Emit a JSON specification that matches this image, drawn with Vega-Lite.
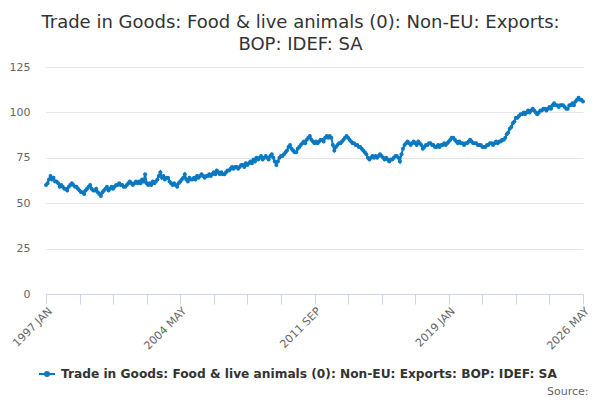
{
  "$schema": "https://vega.github.io/schema/vega-lite/v6.json",
  "width": 537,
  "height": 227,
  "autosize": "none",
  "padding": {"left": 46, "top": 67, "right": 17, "bottom": 106},
  "background": "white",
  "title": {
    "text": ["Trade in Goods: Food & live animals (0): Non-EU: Exports:", "BOP: IDEF: SA"],
    "font": "DejaVu Sans",
    "fontSize": 18,
    "fontWeight": "normal",
    "color": "#333333",
    "anchor": "middle",
    "frame": "group",
    "dx": -14,
    "dy": 3,
    "offset": 10,
    "lineHeight": 22
  },
  "data": {
    "values": [
      {"d": "1997-01", "v": 60}, {"d": "1997-02", "v": 61}, {"d": "1997-03", "v": 63}, {"d": "1997-04", "v": 65}, {"d": "1997-05", "v": 63}, {"d": "1997-06", "v": 64}, {"d": "1997-07", "v": 62}, {"d": "1997-08", "v": 62}, {"d": "1997-09", "v": 61}, {"d": "1997-10", "v": 59}, {"d": "1997-11", "v": 60}, {"d": "1997-12", "v": 59},
      {"d": "1998-01", "v": 58}, {"d": "1998-02", "v": 58}, {"d": "1998-03", "v": 57}, {"d": "1998-04", "v": 59}, {"d": "1998-05", "v": 60}, {"d": "1998-06", "v": 61}, {"d": "1998-07", "v": 60}, {"d": "1998-08", "v": 59}, {"d": "1998-09", "v": 59}, {"d": "1998-10", "v": 58}, {"d": "1998-11", "v": 57}, {"d": "1998-12", "v": 56},
      {"d": "1999-01", "v": 56}, {"d": "1999-02", "v": 55}, {"d": "1999-03", "v": 57}, {"d": "1999-04", "v": 58}, {"d": "1999-05", "v": 59}, {"d": "1999-06", "v": 60}, {"d": "1999-07", "v": 58}, {"d": "1999-08", "v": 57}, {"d": "1999-09", "v": 57}, {"d": "1999-10", "v": 58}, {"d": "1999-11", "v": 56}, {"d": "1999-12", "v": 55},
      {"d": "2000-01", "v": 54}, {"d": "2000-02", "v": 56}, {"d": "2000-03", "v": 57}, {"d": "2000-04", "v": 58}, {"d": "2000-05", "v": 59}, {"d": "2000-06", "v": 57}, {"d": "2000-07", "v": 58}, {"d": "2000-08", "v": 59}, {"d": "2000-09", "v": 58}, {"d": "2000-10", "v": 59}, {"d": "2000-11", "v": 60}, {"d": "2000-12", "v": 60},
      {"d": "2001-01", "v": 61}, {"d": "2001-02", "v": 60}, {"d": "2001-03", "v": 60}, {"d": "2001-04", "v": 59}, {"d": "2001-05", "v": 59}, {"d": "2001-06", "v": 60}, {"d": "2001-07", "v": 61}, {"d": "2001-08", "v": 62}, {"d": "2001-09", "v": 61}, {"d": "2001-10", "v": 60}, {"d": "2001-11", "v": 61}, {"d": "2001-12", "v": 62},
      {"d": "2002-01", "v": 61}, {"d": "2002-02", "v": 62}, {"d": "2002-03", "v": 61}, {"d": "2002-04", "v": 63}, {"d": "2002-05", "v": 62}, {"d": "2002-06", "v": 66}, {"d": "2002-07", "v": 61}, {"d": "2002-08", "v": 60}, {"d": "2002-09", "v": 61}, {"d": "2002-10", "v": 60}, {"d": "2002-11", "v": 62}, {"d": "2002-12", "v": 61},
      {"d": "2003-01", "v": 62}, {"d": "2003-02", "v": 63}, {"d": "2003-03", "v": 65}, {"d": "2003-04", "v": 67}, {"d": "2003-05", "v": 64}, {"d": "2003-06", "v": 65}, {"d": "2003-07", "v": 63}, {"d": "2003-08", "v": 64}, {"d": "2003-09", "v": 64}, {"d": "2003-10", "v": 62}, {"d": "2003-11", "v": 61}, {"d": "2003-12", "v": 60},
      {"d": "2004-01", "v": 61}, {"d": "2004-02", "v": 60}, {"d": "2004-03", "v": 59}, {"d": "2004-04", "v": 61}, {"d": "2004-05", "v": 62}, {"d": "2004-06", "v": 63}, {"d": "2004-07", "v": 64}, {"d": "2004-08", "v": 66}, {"d": "2004-09", "v": 63}, {"d": "2004-10", "v": 62}, {"d": "2004-11", "v": 64}, {"d": "2004-12", "v": 63},
      {"d": "2005-01", "v": 63}, {"d": "2005-02", "v": 64}, {"d": "2005-03", "v": 63}, {"d": "2005-04", "v": 65}, {"d": "2005-05", "v": 64}, {"d": "2005-06", "v": 65}, {"d": "2005-07", "v": 66}, {"d": "2005-08", "v": 65}, {"d": "2005-09", "v": 64}, {"d": "2005-10", "v": 65}, {"d": "2005-11", "v": 65}, {"d": "2005-12", "v": 66},
      {"d": "2006-01", "v": 65}, {"d": "2006-02", "v": 66}, {"d": "2006-03", "v": 67}, {"d": "2006-04", "v": 66}, {"d": "2006-05", "v": 68}, {"d": "2006-06", "v": 67}, {"d": "2006-07", "v": 66}, {"d": "2006-08", "v": 67}, {"d": "2006-09", "v": 66}, {"d": "2006-10", "v": 66}, {"d": "2006-11", "v": 67}, {"d": "2006-12", "v": 68},
      {"d": "2007-01", "v": 68}, {"d": "2007-02", "v": 69}, {"d": "2007-03", "v": 70}, {"d": "2007-04", "v": 69}, {"d": "2007-05", "v": 70}, {"d": "2007-06", "v": 70}, {"d": "2007-07", "v": 69}, {"d": "2007-08", "v": 70}, {"d": "2007-09", "v": 71}, {"d": "2007-10", "v": 71}, {"d": "2007-11", "v": 70}, {"d": "2007-12", "v": 72},
      {"d": "2008-01", "v": 71}, {"d": "2008-02", "v": 72}, {"d": "2008-03", "v": 73}, {"d": "2008-04", "v": 72}, {"d": "2008-05", "v": 74}, {"d": "2008-06", "v": 73}, {"d": "2008-07", "v": 75}, {"d": "2008-08", "v": 74}, {"d": "2008-09", "v": 75}, {"d": "2008-10", "v": 76}, {"d": "2008-11", "v": 74}, {"d": "2008-12", "v": 75},
      {"d": "2009-01", "v": 76}, {"d": "2009-02", "v": 75}, {"d": "2009-03", "v": 74}, {"d": "2009-04", "v": 76}, {"d": "2009-05", "v": 77}, {"d": "2009-06", "v": 75}, {"d": "2009-07", "v": 73}, {"d": "2009-08", "v": 71}, {"d": "2009-09", "v": 73}, {"d": "2009-10", "v": 75}, {"d": "2009-11", "v": 76}, {"d": "2009-12", "v": 76},
      {"d": "2010-01", "v": 77}, {"d": "2010-02", "v": 78}, {"d": "2010-03", "v": 79}, {"d": "2010-04", "v": 81}, {"d": "2010-05", "v": 82}, {"d": "2010-06", "v": 80}, {"d": "2010-07", "v": 79}, {"d": "2010-08", "v": 78}, {"d": "2010-09", "v": 78}, {"d": "2010-10", "v": 80}, {"d": "2010-11", "v": 81}, {"d": "2010-12", "v": 82},
      {"d": "2011-01", "v": 83}, {"d": "2011-02", "v": 84}, {"d": "2011-03", "v": 83}, {"d": "2011-04", "v": 85}, {"d": "2011-05", "v": 86}, {"d": "2011-06", "v": 87}, {"d": "2011-07", "v": 85}, {"d": "2011-08", "v": 84}, {"d": "2011-09", "v": 83}, {"d": "2011-10", "v": 84}, {"d": "2011-11", "v": 83}, {"d": "2011-12", "v": 84},
      {"d": "2012-01", "v": 85}, {"d": "2012-02", "v": 85}, {"d": "2012-03", "v": 84}, {"d": "2012-04", "v": 86}, {"d": "2012-05", "v": 87}, {"d": "2012-06", "v": 86}, {"d": "2012-07", "v": 87}, {"d": "2012-08", "v": 86}, {"d": "2012-09", "v": 82}, {"d": "2012-10", "v": 79}, {"d": "2012-11", "v": 81}, {"d": "2012-12", "v": 82},
      {"d": "2013-01", "v": 83}, {"d": "2013-02", "v": 83}, {"d": "2013-03", "v": 84}, {"d": "2013-04", "v": 85}, {"d": "2013-05", "v": 86}, {"d": "2013-06", "v": 87}, {"d": "2013-07", "v": 86}, {"d": "2013-08", "v": 85}, {"d": "2013-09", "v": 84}, {"d": "2013-10", "v": 83}, {"d": "2013-11", "v": 83}, {"d": "2013-12", "v": 82},
      {"d": "2014-01", "v": 82}, {"d": "2014-02", "v": 81}, {"d": "2014-03", "v": 81}, {"d": "2014-04", "v": 80}, {"d": "2014-05", "v": 79}, {"d": "2014-06", "v": 78}, {"d": "2014-07", "v": 77}, {"d": "2014-08", "v": 75}, {"d": "2014-09", "v": 74}, {"d": "2014-10", "v": 75}, {"d": "2014-11", "v": 76}, {"d": "2014-12", "v": 75},
      {"d": "2015-01", "v": 76}, {"d": "2015-02", "v": 75}, {"d": "2015-03", "v": 76}, {"d": "2015-04", "v": 77}, {"d": "2015-05", "v": 76}, {"d": "2015-06", "v": 75}, {"d": "2015-07", "v": 74}, {"d": "2015-08", "v": 75}, {"d": "2015-09", "v": 74}, {"d": "2015-10", "v": 73}, {"d": "2015-11", "v": 74}, {"d": "2015-12", "v": 74},
      {"d": "2016-01", "v": 75}, {"d": "2016-02", "v": 76}, {"d": "2016-03", "v": 76}, {"d": "2016-04", "v": 75}, {"d": "2016-05", "v": 73}, {"d": "2016-06", "v": 77}, {"d": "2016-07", "v": 80}, {"d": "2016-08", "v": 82}, {"d": "2016-09", "v": 83}, {"d": "2016-10", "v": 84}, {"d": "2016-11", "v": 83}, {"d": "2016-12", "v": 82},
      {"d": "2017-01", "v": 83}, {"d": "2017-02", "v": 84}, {"d": "2017-03", "v": 83}, {"d": "2017-04", "v": 82}, {"d": "2017-05", "v": 84}, {"d": "2017-06", "v": 83}, {"d": "2017-07", "v": 82}, {"d": "2017-08", "v": 80}, {"d": "2017-09", "v": 81}, {"d": "2017-10", "v": 82}, {"d": "2017-11", "v": 82}, {"d": "2017-12", "v": 83},
      {"d": "2018-01", "v": 83}, {"d": "2018-02", "v": 82}, {"d": "2018-03", "v": 82}, {"d": "2018-04", "v": 81}, {"d": "2018-05", "v": 81}, {"d": "2018-06", "v": 82}, {"d": "2018-07", "v": 81}, {"d": "2018-08", "v": 82}, {"d": "2018-09", "v": 82}, {"d": "2018-10", "v": 83}, {"d": "2018-11", "v": 82}, {"d": "2018-12", "v": 83},
      {"d": "2019-01", "v": 84}, {"d": "2019-02", "v": 85}, {"d": "2019-03", "v": 86}, {"d": "2019-04", "v": 86}, {"d": "2019-05", "v": 85}, {"d": "2019-06", "v": 84}, {"d": "2019-07", "v": 83}, {"d": "2019-08", "v": 84}, {"d": "2019-09", "v": 83}, {"d": "2019-10", "v": 83}, {"d": "2019-11", "v": 82}, {"d": "2019-12", "v": 83},
      {"d": "2020-01", "v": 83}, {"d": "2020-02", "v": 84}, {"d": "2020-03", "v": 85}, {"d": "2020-04", "v": 84}, {"d": "2020-05", "v": 83}, {"d": "2020-06", "v": 83}, {"d": "2020-07", "v": 83}, {"d": "2020-08", "v": 82}, {"d": "2020-09", "v": 82}, {"d": "2020-10", "v": 82}, {"d": "2020-11", "v": 81}, {"d": "2020-12", "v": 81},
      {"d": "2021-01", "v": 81}, {"d": "2021-02", "v": 82}, {"d": "2021-03", "v": 82}, {"d": "2021-04", "v": 83}, {"d": "2021-05", "v": 83}, {"d": "2021-06", "v": 82}, {"d": "2021-07", "v": 83}, {"d": "2021-08", "v": 84}, {"d": "2021-09", "v": 83}, {"d": "2021-10", "v": 84}, {"d": "2021-11", "v": 84}, {"d": "2021-12", "v": 85},
      {"d": "2022-01", "v": 85}, {"d": "2022-02", "v": 86}, {"d": "2022-03", "v": 88}, {"d": "2022-04", "v": 89}, {"d": "2022-05", "v": 91}, {"d": "2022-06", "v": 92}, {"d": "2022-07", "v": 94}, {"d": "2022-08", "v": 95}, {"d": "2022-09", "v": 97}, {"d": "2022-10", "v": 97}, {"d": "2022-11", "v": 98}, {"d": "2022-12", "v": 99},
      {"d": "2023-01", "v": 99}, {"d": "2023-02", "v": 100}, {"d": "2023-03", "v": 99}, {"d": "2023-04", "v": 100}, {"d": "2023-05", "v": 101}, {"d": "2023-06", "v": 100}, {"d": "2023-07", "v": 101}, {"d": "2023-08", "v": 102}, {"d": "2023-09", "v": 101}, {"d": "2023-10", "v": 100}, {"d": "2023-11", "v": 99}, {"d": "2023-12", "v": 100},
      {"d": "2024-01", "v": 101}, {"d": "2024-02", "v": 101}, {"d": "2024-03", "v": 102}, {"d": "2024-04", "v": 102}, {"d": "2024-05", "v": 101}, {"d": "2024-06", "v": 102}, {"d": "2024-07", "v": 103}, {"d": "2024-08", "v": 102}, {"d": "2024-09", "v": 104}, {"d": "2024-10", "v": 105}, {"d": "2024-11", "v": 104}, {"d": "2024-12", "v": 104},
      {"d": "2025-01", "v": 103}, {"d": "2025-02", "v": 104}, {"d": "2025-03", "v": 104}, {"d": "2025-04", "v": 104}, {"d": "2025-05", "v": 103}, {"d": "2025-06", "v": 102}, {"d": "2025-07", "v": 102}, {"d": "2025-08", "v": 104}, {"d": "2025-09", "v": 104}, {"d": "2025-10", "v": 105}, {"d": "2025-11", "v": 104}, {"d": "2025-12", "v": 106},
      {"d": "2026-01", "v": 107}, {"d": "2026-02", "v": 108}, {"d": "2026-03", "v": 107}, {"d": "2026-04", "v": 107}, {"d": "2026-05", "v": 106}
    ]
  },
  "mark": {"type": "line", "strokeWidth": 2, "point": {"filled": true, "size": 16}},
  "encoding": {
    "x": {
      "field": "d",
      "type": "temporal",
      "scale": {
        "type": "utc",
        "domain": [
          {"year": 1997, "month": 1, "date": 1, "utc": true},
          {"year": 2026, "month": 5, "date": 1, "utc": true}
        ]
      },
      "axis": {
        "values": [
          {"year": 1997, "month": 1, "date": 1, "utc": true},
          {"year": 1998, "month": 11, "date": 1, "utc": true},
          {"year": 2000, "month": 9, "date": 1, "utc": true},
          {"year": 2002, "month": 7, "date": 1, "utc": true},
          {"year": 2004, "month": 5, "date": 1, "utc": true},
          {"year": 2006, "month": 3, "date": 1, "utc": true},
          {"year": 2008, "month": 1, "date": 1, "utc": true},
          {"year": 2009, "month": 11, "date": 1, "utc": true},
          {"year": 2011, "month": 9, "date": 1, "utc": true},
          {"year": 2013, "month": 7, "date": 1, "utc": true},
          {"year": 2015, "month": 5, "date": 1, "utc": true},
          {"year": 2017, "month": 3, "date": 1, "utc": true},
          {"year": 2019, "month": 1, "date": 1, "utc": true},
          {"year": 2020, "month": 11, "date": 1, "utc": true},
          {"year": 2022, "month": 9, "date": 1, "utc": true},
          {"year": 2024, "month": 7, "date": 1, "utc": true},
          {"year": 2026, "month": 5, "date": 1, "utc": true}
        ],
        "labelExpr": "indexof(['1997 JAN','2004 MAY','2011 SEP','2019 JAN','2026 MAY'], upper(utcFormat(datum.value, '%Y %b'))) >= 0 ? upper(utcFormat(datum.value, '%Y %b')) : ''",
        "grid": false,
        "domainColor": "#ccd6eb",
        "tickColor": "#ccd6eb",
        "tickSize": 10,
        "labelAngle": -45,
        "labelAlign": "right",
        "labelBaseline": "top",
        "labelPadding": 1,
        "labelFontSize": 11,
        "labelColor": "#666666",
        "labelOverlap": false,
        "labelBound": false,
        "title": "Source:",
        "titleX": 542,
        "titleY": 100,
        "titleAlign": "right",
        "titleAnchor": null,
        "titleBaseline": "alphabetic",
        "titleFontSize": 11,
        "titleFontWeight": "normal",
        "titleColor": "#666666"
      }
    },
    "y": {
      "field": "v",
      "type": "quantitative",
      "scale": {"domain": [0, 125], "nice": false},
      "axis": {
        "values": [0, 25, 50, 75, 100, 125],
        "title": null,
        "domain": false,
        "ticks": false,
        "tickSize": 0,
        "labelPadding": 16,
        "labelFontSize": 11,
        "labelColor": "#666666",
        "gridColor": "#e6e6e6"
      }
    },
    "color": {
      "datum": "Trade in Goods: Food & live animals (0): Non-EU: Exports: BOP: IDEF: SA",
      "scale": {"range": ["#0b79c1"]},
      "legend": {
        "orient": "none",
        "legendX": -8,
        "legendY": 298,
        "title": null,
        "padding": 0,
        "symbolType": "M-1,0L1,0M-0.25,0a0.25,0.25 0 1,0 0.5,0a0.25,0.25 0 1,0 -0.5,0",
        "symbolSize": 256,
        "symbolStrokeWidth": 2,
        "symbolFillColor": "#0b79c1",
        "symbolStrokeColor": "#0b79c1",
        "labelFontSize": 12.2,
        "labelFontWeight": "bold",
        "labelColor": "#333333",
        "labelLimit": 0,
        "labelOffset": 5
      }
    }
  },
  "config": {
    "view": {"stroke": null},
    "font": "DejaVu Sans"
  }
}
